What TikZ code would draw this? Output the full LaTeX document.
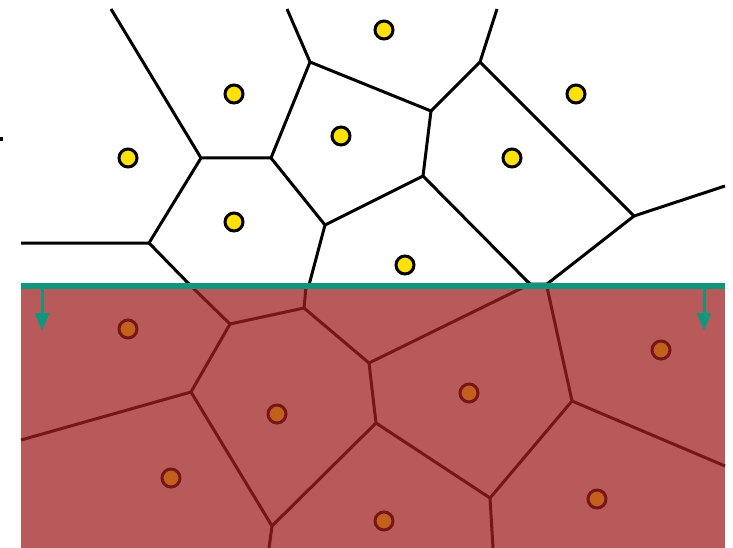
\documentclass[tikz,border=0pt]{standalone}
\usetikzlibrary{arrows.meta}
\definecolor{teal1}{HTML}{11967E}
\definecolor{redfill}{HTML}{B85A5A}
\definecolor{redline}{HTML}{761616}
\definecolor{ptyellow}{HTML}{FFE10A}
\definecolor{ptorange}{HTML}{C4601E}
\tikzset{
  vedge/.style={line width=3pt, black},
  redge/.style={line width=3pt, redline},
  ysite/.style={circle, draw=black, line width=3pt, fill=ptyellow, minimum size=18pt, inner sep=0pt},
  osite/.style={circle, draw=redline, line width=3pt, fill=ptorange, minimum size=18pt, inner sep=0pt},
  tealline/.style={line width=6pt, teal1},
  tealarrow/.style={line width=3pt, teal1, -{Triangle[length=18pt,width=14pt]}}
}
\begin{document}
\begin{tikzpicture}[x=1pt,y=-1pt]
\useasboundingbox (0,0) rectangle (733,548);
% bottom half
\fill[redfill] (21,286) rectangle (725,548);
\coordinate (a) at (230,324);
\coordinate (b) at (304,308);
\coordinate (c) at (191,392);
\coordinate (d) at (369,363);
\coordinate (e) at (376,423);
\coordinate (f) at (272,526);
\coordinate (g) at (572,401);
\coordinate (h) at (490,498);
\coordinate (b1) at (192,287);
\coordinate (b2) at (306,287);
\coordinate (b3) at (21,440);
\coordinate (b4) at (269,548);
\coordinate (b5) at (524,287);
\coordinate (b6) at (547,287);
\coordinate (b7) at (725,466);
\coordinate (b8) at (493,548);
\draw[redge] (b1) -- (a) -- (b) -- (b2);
\draw[redge] (a) -- (c) -- (b3);
\draw[redge] (c) -- (f) -- (b4);
\draw[redge] (b) -- (d) -- (e) -- (f);
\draw[redge] (d) -- (b5);
\draw[redge] (e) -- (h) -- (b8);
\draw[redge] (h) -- (g) -- (b6);
\draw[redge] (g) -- (b7);
% top half
\coordinate (A) at (201,158);
\coordinate (B) at (271,158);
\coordinate (C) at (310,62);
\coordinate (D) at (431,111);
\coordinate (E) at (480,62);
\coordinate (F) at (423,176);
\coordinate (G) at (325,225);
\coordinate (H) at (149,243);
\coordinate (I) at (634,216);
\coordinate (t1) at (111,9);
\coordinate (t2) at (287,9);
\coordinate (t3) at (497,9);
\coordinate (t4) at (21,243);
\coordinate (t5) at (190,285);
\coordinate (t6) at (309,285);
\coordinate (t7) at (530,284);
\coordinate (t8) at (547,284);
\coordinate (t9) at (725,186);
\draw[vedge] (t1) -- (A) -- (B) -- (C) -- (t2);
\draw[vedge] (A) -- (H) -- (t4);
\draw[vedge] (H) -- (t5);
\draw[vedge] (B) -- (G) -- (t6);
\draw[vedge] (C) -- (D) -- (E) -- (t3);
\draw[vedge] (D) -- (F) -- (G);
\draw[vedge] (F) -- (t7) -- (t8) -- (I) -- (E);
\draw[vedge] (I) -- (t9);
% tick
\fill[black] (0,137) rectangle (3,141);
% teal line and arrows
\draw[tealline] (21,286) -- (725,286);
\coordinate (ar1s) at (42,288);
\coordinate (ar1e) at (42,331);
\coordinate (ar2s) at (704,288);
\coordinate (ar2e) at (704,331);
\draw[tealarrow] (ar1s) -- (ar1e);
\draw[tealarrow] (ar2s) -- (ar2e);
% sites
\node[ysite] (y1) at (384,30) {};
\node[ysite] (y2) at (234,94) {};
\node[ysite] (y3) at (576,94) {};
\node[ysite] (y4) at (128,158) {};
\node[ysite] (y5) at (341,136) {};
\node[ysite] (y6) at (512,158) {};
\node[ysite] (y7) at (234,222) {};
\node[ysite] (y8) at (405,265) {};
\node[osite] (o1) at (128,329) {};
\node[osite] (o2) at (661,350) {};
\node[osite] (o3) at (469,393) {};
\node[osite] (o4) at (277,414) {};
\node[osite] (o5) at (171,478) {};
\node[osite] (o6) at (597,499) {};
\node[osite] (o7) at (384,521) {};
\end{tikzpicture}
\end{document}
